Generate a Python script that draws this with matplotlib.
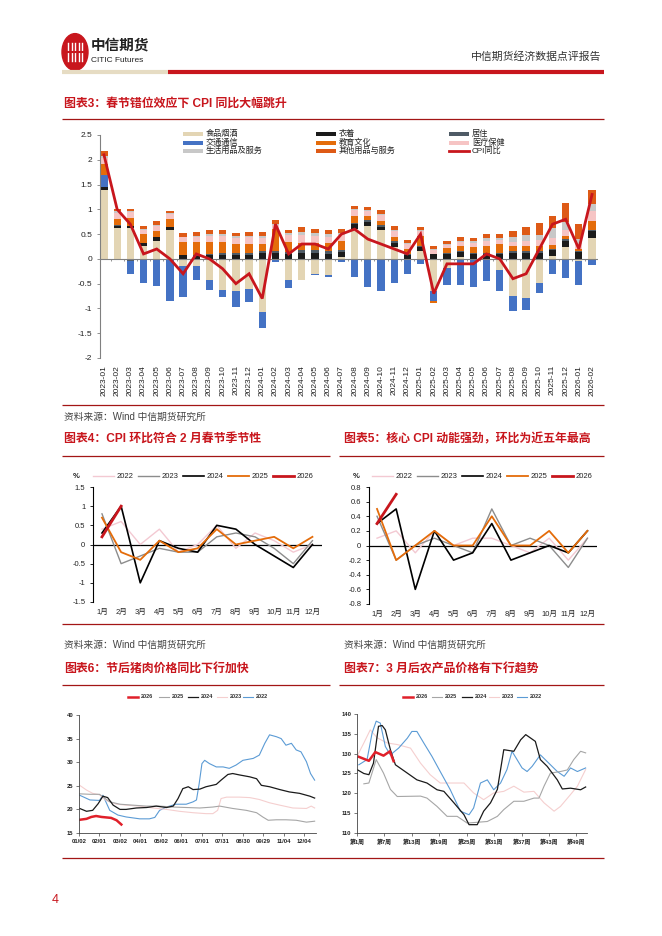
import numpy as np
import matplotlib
matplotlib.use('Agg')
import matplotlib.pyplot as plt
from matplotlib.lines import Line2D
from matplotlib.patches import Rectangle, Circle
from matplotlib.ticker import FuncFormatter

plt.rcParams['font.family'] = ['Liberation Sans', 'Noto Sans CJK SC', 'DejaVu Sans']
plt.rcParams['axes.unicode_minus'] = False

# ---------------- data: chart 3 (CPI yoy contributions) ----------------
months3 = [f'{y}-{m:02d}' for y in (2023, 2024, 2025) for m in range(1, 13)] + ['2026-01', '2026-02']
comp_names = ['食品烟酒', '衣着', '居住', '交通通信', '教育文化', '医疗保健', '生活用品及服务', '其他用品与服务']
food = [1.40, 0.62, 0.62, 0.25, 0.37, 0.58, -0.15, -0.15, -0.43, -0.63, -0.65, -0.60,
        -1.08, -0.02, -0.42, -0.42, -0.30, -0.32, 0.04, 0.60, 0.66, 0.58, 0.24, -0.02,
        0.15, -0.65, -0.19, 0.03, -0.03, -0.02, -0.23, -0.75, -0.78, -0.48, 0.05, 0.24,
        -0.05, 0.42]
clothing = [0.05, 0.05, 0.05, 0.07, 0.08, 0.07, 0.08, 0.06, 0.07, 0.07, 0.07, 0.07,
            0.11, 0.11, 0.10, 0.12, 0.12, 0.10, 0.10, 0.10, 0.09, 0.07, 0.09, 0.08,
            0.09, 0.09, 0.09, 0.10, 0.10, 0.10, 0.10, 0.12, 0.12, 0.12, 0.12, 0.13,
            0.13, 0.15]
housing = [0.00, 0.01, -0.04, -0.03, -0.03, 0.00, 0.00, 0.02, 0.03, 0.04, 0.04, 0.04,
           0.04, 0.04, 0.04, 0.05, 0.05, 0.05, 0.04, 0.03, 0.03, 0.03, 0.03, 0.02,
           0.02, 0.01, 0.02, 0.02, 0.02, 0.02, 0.02, 0.03, 0.03, 0.03, 0.03, 0.03,
           0.02, 0.02]
transport = [0.25, -0.02, -0.26, -0.45, -0.52, -0.85, -0.62, -0.27, -0.20, -0.13, -0.33, -0.28,
             -0.32, -0.04, -0.16, 0.00, -0.02, -0.05, -0.07, -0.36, -0.56, -0.64, -0.49, -0.28,
             -0.10, -0.20, -0.33, -0.52, -0.53, -0.42, -0.42, -0.30, -0.26, -0.20, -0.30, -0.38,
             -0.47, -0.13]
education = [0.22, 0.12, 0.15, 0.18, 0.12, 0.15, 0.26, 0.26, 0.25, 0.23, 0.20, 0.20,
             0.15, 0.46, 0.20, 0.16, 0.15, 0.17, 0.18, 0.13, 0.08, 0.08, 0.08, 0.10,
             0.20, -0.05, 0.10, 0.12, 0.12, 0.15, 0.18, 0.10, 0.10, 0.10, 0.08, 0.07,
             0.05, 0.18]
medical = [0.12, 0.13, 0.12, 0.08, 0.10, 0.10, 0.10, 0.10, 0.12, 0.13, 0.12, 0.13,
           0.12, 0.08, 0.15, 0.15, 0.15, 0.13, 0.12, 0.12, 0.11, 0.12, 0.12, 0.10,
           0.10, 0.08, 0.07, 0.08, 0.08, 0.10, 0.08, 0.10, 0.12, 0.13, 0.15, 0.12,
           0.10, 0.20]
household = [0.04, 0.03, 0.02, 0.02, 0.02, 0.02, 0.01, 0.03, 0.03, 0.03, 0.03, 0.03,
             0.05, 0.02, 0.04, 0.06, 0.05, 0.05, 0.05, 0.02, 0.01, 0.02, 0.02, 0.02,
             0.02, 0.02, 0.02, 0.02, 0.04, 0.05, 0.05, 0.10, 0.12, 0.10, 0.19, 0.15,
             0.10, 0.14]
other = [0.10, 0.05, 0.05, 0.07, 0.07, 0.05, 0.07, 0.07, 0.08, 0.08, 0.07, 0.07,
         0.07, 0.07, 0.06, 0.10, 0.08, 0.08, 0.07, 0.07, 0.07, 0.08, 0.09, 0.07,
         0.07, 0.07, 0.07, 0.07, 0.07, 0.09, 0.07, 0.12, 0.15, 0.25, 0.25, 0.38,
         0.30, 0.28]
cpi_yoy = [2.1, 1.0, 0.7, 0.1, 0.2, 0.0, -0.3, 0.1, 0.0, -0.2, -0.5, -0.3,
           -0.8, 0.7, 0.1, 0.3, 0.3, 0.2, 0.5, 0.6, 0.4, 0.3, 0.2, 0.1,
           0.5, -0.7, -0.1, -0.1, -0.1, 0.1, 0.0, -0.4, -0.3, 0.2, 0.7, 0.8,
           0.2, 1.3]

# ---------------- data: charts 4/5 (monthly mom) ----------------
months12 = ['1月', '2月', '3月', '4月', '5月', '6月', '7月', '8月', '9月', '10月', '11月', '12月']
years = ['2022', '2023', '2024', '2025', '2026']
cpi_mom_2022 = [0.4, 0.6, 0.0, 0.4, -0.2, 0.0, 0.5, -0.1, 0.3, 0.1, -0.2, 0.0]
cpi_mom_2023 = [0.8, -0.5, -0.3, -0.1, -0.2, -0.2, 0.2, 0.3, 0.2, -0.1, -0.5, 0.1]
cpi_mom_2024 = [0.3, 1.0, -1.0, 0.1, -0.1, -0.2, 0.5, 0.4, 0.0, -0.3, -0.6, 0.0]
cpi_mom_2025 = [0.7, -0.2, -0.4, 0.1, -0.2, -0.1, 0.4, 0.0, 0.1, 0.2, -0.1, 0.2]
cpi_mom_2026 = [0.2, 1.0]
core_mom_2022 = [0.1, 0.2, -0.1, 0.2, 0.0, 0.1, 0.1, 0.0, -0.1, 0.1, -0.2, 0.1]
core_mom_2023 = [0.4, -0.2, 0.0, 0.1, 0.0, -0.1, 0.5, 0.0, 0.1, 0.0, -0.3, 0.1]
core_mom_2024 = [0.3, 0.5, -0.6, 0.2, -0.2, -0.1, 0.3, -0.2, -0.1, 0.0, -0.1, 0.2]
core_mom_2025 = [0.5, -0.2, 0.0, 0.2, 0.0, 0.0, 0.4, 0.0, 0.0, 0.2, -0.1, 0.2]
core_mom_2026 = [0.3, 0.7]

# ---------------- data: chart 6 (pork price, day of season) ----------------
pork_ticks = ['01/02', '02/01', '03/02', '04/01', '05/02', '06/01', '07/01', '07/31', '08/30', '09/29', '11/04', '12/04']
pork_day_2022 = [1, 16, 30, 35, 45, 57, 69, 89, 103, 111, 118, 128, 142, 157, 167, 172, 176, 180, 184, 191, 201,
                 211, 220, 230, 240, 255, 264, 272, 279, 289, 296, 303, 311, 318, 325, 333, 339, 345]
pork_2022 = [23.0, 22.0, 21.9, 23.0, 19.8, 18.8, 18.4, 18.0, 18.0, 18.3, 19.8, 20.5, 21.1, 21.1, 21.6, 22.0, 25.5,
             29.7, 30.4, 29.7, 29.0, 29.0, 28.7, 29.4, 30.4, 30.8, 31.5, 34.0, 35.8, 35.4, 35.0, 33.6, 34.0, 32.6,
             32.2, 30.1, 27.6, 26.2]
pork_day_2023 = [1, 11, 20, 30, 40, 55, 69, 89, 108, 128, 147, 167, 186, 196, 203, 208, 216, 235, 250, 264, 279,
                 294, 313, 333, 340, 345]
pork_2023 = [25.1, 24.1, 23.4, 23.1, 21.9, 21.1, 20.9, 20.7, 20.3, 20.0, 19.6, 19.3, 19.1, 19.1, 19.8, 22.3, 22.6,
             22.6, 22.5, 22.1, 21.4, 20.9, 20.3, 20.2, 20.7, 20.3]
pork_day_2024 = [1, 11, 20, 28, 35, 42, 50, 60, 69, 84, 99, 113, 128, 138, 145, 152, 160, 167, 177, 186, 201, 208,
                 218, 225, 235, 250, 260, 267, 279, 294, 308, 323, 338, 345]
pork_2024 = [20.2, 19.6, 19.8, 21.2, 22.8, 22.5, 20.9, 20.0, 20.0, 20.3, 20.4, 20.7, 20.4, 20.7, 22.3, 24.4, 24.8,
             24.2, 24.3, 24.8, 25.3, 26.2, 27.4, 27.6, 27.3, 26.9, 26.5, 25.1, 24.8, 24.2, 23.7, 23.4, 22.8, 22.4]
pork_day_2025 = [1, 16, 30, 45, 60, 79, 99, 118, 138, 157, 177, 196, 206, 225, 245, 260, 269, 277, 289, 303, 318,
                 333, 345]
pork_2025 = [23.3, 23.2, 23.2, 21.6, 21.1, 20.9, 20.7, 20.7, 20.5, 20.4, 20.3, 20.5, 20.7, 20.2, 19.8, 19.3, 18.4,
             17.7, 17.8, 17.8, 17.7, 17.3, 17.5]
pork_day_2026 = [1, 11, 18, 25, 33, 40, 47, 55, 62]
pork_2026 = [17.8, 18.0, 18.4, 18.6, 18.4, 18.3, 18.2, 17.7, 16.8]

# ---------------- data: chart 7 (agri price index, week) ----------------
week_ticks = [1, 7, 13, 19, 25, 31, 37, 43, 49]
agri_wk_2026 = [1.4, 3.6, 5.0, 6.8, 8.2, 9.0]
agri_2026 = [129.2, 128.2, 130.4, 129.5, 130.6, 128.1]
agri_wk_2025 = [2.5, 3.6, 5.2, 6.8, 8.3, 9.8, 14.9, 16.3, 18.5, 20.7, 22.9, 25.1, 27.3, 29.5, 31.7, 33.1, 35.3,
                37.5, 39.7, 40.8, 41.9, 43.3, 45.5, 47.0, 48.4, 49.9, 51.0]
agri_2025 = [122.4, 122.6, 128.5, 125.1, 121.0, 119.2, 119.3, 118.8, 116.7, 114.2, 114.2, 112.5, 112.7, 112.9,
             114.2, 115.9, 118.0, 118.0, 118.8, 118.8, 121.8, 125.1, 125.5, 125.9, 128.5, 130.6, 130.2]
agri_wk_2024 = [1, 2.5, 3.6, 4.6, 5.7, 6.5, 7.2, 8.3, 9.4, 12, 14.1, 16.3, 18.5, 20, 22.2, 24.4, 25.5, 27.3, 28.7,
                30.2, 31.7, 33.1, 35.3, 36.8, 37.9, 40, 41.1, 42.6, 44.8, 45.9, 47.7, 49.9, 51]
agri_2024 = [126.0, 125.0, 124.7, 127.6, 136.9, 137.1, 136.0, 131.0, 127.2, 125.1, 123.4, 122.6, 120.9, 120.5,
             117.6, 114.6, 112.1, 112.1, 115.5, 117.6, 121.0, 131.0, 130.6, 133.5, 134.8, 133.1, 128.5, 126.8,
             123.4, 121.1, 121.3, 120.9, 121.6]
agri_wk_2023 = [1, 2.5, 3.9, 5.4, 7.6, 9.8, 12.7, 14.9, 17, 19.2, 22.2, 24.4, 26.5, 28.7, 30.9, 33.1, 35.3, 37.5,
                39.7, 41.9, 44.1, 45.5, 47.7, 49.2, 51]
agri_2023 = [129.3, 132.7, 136.0, 134.0, 132.7, 132.3, 131.4, 127.6, 124.7, 122.6, 122.6, 122.6, 120.1, 118.4,
             120.1, 120.5, 121.8, 120.3, 120.5, 117.6, 115.5, 116.7, 119.7, 121.8, 126.0]
agri_wk_2022 = [1.4, 3.2, 4.3, 5.2, 6.1, 7.2, 8.3, 10.1, 12, 13, 14.1, 15.6, 17.4, 19.2, 21.4, 23.6, 25.5, 26.5,
                28, 29.5, 30.9, 32.4, 33.8, 34.9, 36, 37.1, 38.2, 39.3, 41.1, 42.6, 44.8, 46.3, 47.7, 49.2, 51]
agri_2022 = [127.2, 128.5, 135.2, 138.2, 137.7, 131.8, 129.7, 131.4, 133.9, 135.6, 135.6, 132.7, 129.3, 125.5,
             120.9, 115.5, 114.6, 116.3, 122.6, 123.4, 120.9, 122.6, 126.0, 130.6, 128.5, 126.4, 125.5, 126.8,
             129.7, 128.0, 125.5, 124.3, 126.4, 125.5, 126.4]

# ---------------- figure helpers ----------------
W, H = 662, 936
fig = plt.figure(figsize=(W / 100, H / 100), dpi=100)
fig.patch.set_facecolor('white')


def fx(x):
    return x / W


def fy(y):
    return 1 - y / H


def add_ax(x0, yt, x1, yb):
    return fig.add_axes([fx(x0), fy(yb), (x1 - x0) / W, (yb - yt) / H])


def ftext(x, y, s, **kw):
    return fig.text(fx(x), fy(y), s, **kw)


def fline(x0, x1, y, color, lw):
    fig.add_artist(Line2D([fx(x0), fx(x1)], [fy(y), fy(y)], color=color, lw=lw,
                          solid_capstyle='butt'))


DRED = '#A31515'
TITLE_KW = dict(color='#C8161D', fontsize=8.6, fontweight='bold', va='center', ha='left')
SRC_KW = dict(color='#444444', fontsize=7, va='center', ha='left')

# ---------------- header ----------------
fig.add_artist(Circle((fx(75), fy(52)), 13 / W, transform=fig.transFigure, color='#C8161D'))
for dx in (-7, -3.5, 0, 3.5, 7):
    fig.add_artist(Line2D([fx(75 + dx), fx(75 + dx)], [fy(43), fy(61)], color='white', lw=1.0))
fig.add_artist(Line2D([fx(66), fx(84)], [fy(52), fy(52)], color='#C8161D', lw=1.5))
ftext(91, 46, '中信期货', fontsize=10.5, fontweight='bold', color='#222222', va='center')
ftext(91, 61, 'CITIC Futures', fontsize=6, color='#222222', va='center')
ftext(601, 57, '中信期货经济数据点评报告', fontsize=7.8, color='#333333', ha='right', va='center')
fline(62, 168, 72, '#E6DCC3', 3)
fline(168, 604, 72, '#C8161D', 3)

# ---------------- chart 3 ----------------
ftext(64, 104, '图表3：春节错位效应下 CPI 同比大幅跳升', **TITLE_KW)
fline(62, 604, 119, DRED, 0.9)

colors3 = ['#E3D5B4', '#1B1B1B', '#4F5B66', '#4472C4', '#E46C0A', '#F6C4C4', '#C8C8C8', '#DE5A16']
ax3 = add_ax(100, 135, 598, 358)
n3 = len(months3)
x3 = np.arange(n3)
pos_base = np.zeros(n3)
neg_base = np.zeros(n3)
for vals, col in zip([food, clothing, housing, transport, education, medical, household, other], colors3):
    v = np.array(vals)
    p = np.where(v > 0, v, 0.0)
    q = np.where(v < 0, v, 0.0)
    ax3.bar(x3, p, bottom=pos_base, width=0.55, color=col, lw=0, zorder=2)
    ax3.bar(x3, q, bottom=neg_base, width=0.55, color=col, lw=0, zorder=2)
    pos_base += p
    neg_base += q
ax3.axhline(0, color='#808080', lw=0.8, zorder=3)
ax3.vlines(np.arange(n3 + 1) - 0.5, -0.05, 0, color='#808080', lw=0.6, zorder=3)
ax3.plot(x3, cpi_yoy, color='#C8161D', lw=2.0, zorder=5, solid_joinstyle='miter')
ax3.set_xlim(-0.3, 37.45)
ax3.set_ylim(-2, 2.5)
ax3.set_yticks(np.arange(-2, 2.51, 0.5))
ax3.yaxis.set_major_formatter(FuncFormatter(lambda v, p: f'{v:g}'))
ax3.set_xticks(x3)
ax3.set_xticklabels(months3, rotation=90, fontsize=6, color='#222222')
ax3.tick_params(axis='x', length=0, pad=5)
ax3.tick_params(axis='y', length=2.5, width=0.6, color='#808080', labelsize=6, labelcolor='#222222', pad=3)
for s in ('top', 'right', 'bottom'):
    ax3.spines[s].set_visible(False)
ax3.spines['left'].set_color('#808080')
ax3.spines['left'].set_linewidth(0.8)
ax3.patch.set_alpha(0)

# chart 3 legend (row-major, 3 columns)
leg_cols = [183, 316, 449]
leg_rows = [134, 142.5, 151]
leg_items = list(zip(comp_names, colors3)) + [('CPI同比', None)]
for i, (name, col) in enumerate(leg_items):
    cx = leg_cols[i % 3]
    cy = leg_rows[i // 3]
    if col is None:
        fig.add_artist(Line2D([fx(cx), fx(cx + 20)], [fy(cy), fy(cy)], color='#C8161D', lw=2.0))
    else:
        fig.add_artist(Rectangle((fx(cx), fy(cy + 2)), 20 / W, 4 / H, transform=fig.transFigure,
                                 color=col, lw=0))
    ftext(cx + 23, cy, name, fontsize=5.9, color='#222222', va='center')

fline(62, 604, 405, DRED, 0.9)
ftext(64, 417, '资料来源：Wind 中信期货研究所', **SRC_KW)

# ---------------- charts 4 & 5 ----------------
ftext(64, 439, '图表4：CPI 环比符合 2 月春节季节性', **TITLE_KW)
ftext(344, 439, '图表5：核心 CPI 动能强劲，环比为近五年最高', **TITLE_KW)
fline(62, 330, 456, DRED, 0.9)
fline(339, 604, 456, DRED, 0.9)

mom_colors = ['#F3C9D2', '#8C8C8C', '#000000', '#E46C0A', '#C8161D']
mom_lw = [1.0, 1.0, 1.2, 1.3, 2.0]


def mom_chart(box, series, ylim, step, fmt, leg_x, pct_x):
    ax = add_ax(*box)
    for ser, col, lw in zip(series, mom_colors, mom_lw):
        ax.plot(np.arange(len(ser)), ser, color=col, lw=lw, zorder=5 if col == '#C8161D' else 3)
    ax.axhline(0, color='black', lw=0.9, zorder=2)
    ax.set_ylim(*ylim)
    ax.set_yticks(np.arange(ylim[0], ylim[1] + 1e-9, step))
    ax.yaxis.set_major_formatter(FuncFormatter(fmt))
    ax.set_xticks(np.arange(12))
    ax.set_xticklabels(months12, fontsize=5.5, color='#222222')
    ax.tick_params(axis='x', length=0, pad=5)
    ax.tick_params(axis='y', length=2.5, width=0.6, labelsize=5.5, labelcolor='#222222', pad=3)
    for s in ('top', 'right', 'bottom'):
        ax.spines[s].set_visible(False)
    ax.spines['left'].set_linewidth(0.8)
    ax.patch.set_alpha(0)
    for i, (yr, col, lw) in enumerate(zip(years, mom_colors, mom_lw)):
        lx = leg_x + 45 * i
        fig.add_artist(Line2D([fx(lx), fx(lx + 21)], [fy(476), fy(476)], color=col, lw=lw))
        ftext(lx + 24, 476, yr, fontsize=5.5, color='#222222', va='center')
    ftext(pct_x, 477, '%', fontsize=5.5, fontweight='bold', color='#222222', va='center', ha='center')
    return ax


ax4 = mom_chart((93, 487, 322, 602), [cpi_mom_2022, cpi_mom_2023, cpi_mom_2024, cpi_mom_2025, cpi_mom_2026],
                (-1.5, 1.5), 0.5, lambda v, p: f'{v:g}', 93, 76)
ax4.set_xlim(-0.47, 11.5)
ax5 = mom_chart((369, 487, 597, 604), [core_mom_2022, core_mom_2023, core_mom_2024, core_mom_2025, core_mom_2026],
                (-0.8, 0.8), 0.2, lambda v, p: '0' if abs(v) < 1e-9 else f'{v:.1f}', 372, 356)
ax5.set_xlim(-0.42, 11.5)

fline(62, 604, 624, DRED, 0.9)
ftext(64, 645, '资料来源：Wind 中信期货研究所', **SRC_KW)
ftext(344, 645, '资料来源：Wind 中信期货研究所', **SRC_KW)

# ---------------- charts 6 & 7 ----------------
ftext(64, 669, '图表6：节后猪肉价格同比下行加快', **TITLE_KW)
ftext(344, 669, '图表7：3 月后农产品价格有下行趋势', **TITLE_KW)
fline(62, 330, 685, DRED, 0.9)
fline(339, 604, 685, DRED, 0.9)

line_cols = {'2026': '#E0202A', '2025': '#A6A6A6', '2024': '#1A1A1A', '2023': '#F5CFCF', '2022': '#5B9BD5'}
line_lw = {'2026': 1.8, '2025': 0.8, '2024': 0.9, '2023': 0.8, '2022': 0.8}
leg_order = ['2026', '2025', '2024', '2023', '2022']


def small_style(ax):
    for s in ('top', 'right'):
        ax.spines[s].set_visible(False)
    for s in ('left', 'bottom'):
        ax.spines[s].set_color('#444444')
        ax.spines[s].set_linewidth(0.6)
    ax.tick_params(length=2, width=0.5, color='#444444', labelsize=4.2, labelcolor='#222222', pad=2)
    for lab in ax.get_xticklabels() + ax.get_yticklabels():
        lab.set_fontweight('bold')
    ax.patch.set_alpha(0)


ax6 = add_ax(79, 715, 316, 833)
pork = {'2022': (pork_day_2022, pork_2022), '2023': (pork_day_2023, pork_2023),
        '2024': (pork_day_2024, pork_2024), '2025': (pork_day_2025, pork_2025),
        '2026': (pork_day_2026, pork_2026)}
for yr in ['2022', '2023', '2025', '2024', '2026']:
    d, v = pork[yr]
    ax6.plot(d, v, color=line_cols[yr], lw=line_lw[yr])
ax6.set_xlim(0, 347)
ax6.set_ylim(15, 40)
ax6.set_yticks(np.arange(15, 41, 5))
ax6.set_xticks(np.arange(len(pork_ticks)) * 30)
ax6.set_xticklabels(pork_ticks)
small_style(ax6)
for i, yr in enumerate(leg_order):
    lx = [128, 159, 188, 217, 243][i]
    fig.add_artist(Line2D([fx(lx), fx(lx + 10)], [fy(697), fy(697)], color=line_cols[yr], lw=line_lw[yr]))
    ftext(lx + 13, 697, yr, fontsize=4, color='#333333', va='center', fontweight='bold')

ax7 = add_ax(357, 714, 587, 833)
agri = {'2022': (agri_wk_2022, agri_2022), '2023': (agri_wk_2023, agri_2023),
        '2024': (agri_wk_2024, agri_2024), '2025': (agri_wk_2025, agri_2025),
        '2026': (agri_wk_2026, agri_2026)}
for yr in ['2023', '2022', '2025', '2024', '2026']:
    w, v = agri[yr]
    ax7.plot(w, v, color=line_cols[yr], lw=line_lw[yr])
ax7.set_xlim(1, 51.3)
ax7.set_ylim(110, 140)
ax7.set_yticks(np.arange(110, 141, 5))
ax7.set_xticks(week_ticks)
ax7.set_xticklabels([f'第{w}周' for w in week_ticks])
small_style(ax7)
for i, yr in enumerate(leg_order):
    lx = [403, 432, 462, 489, 517][i]
    fig.add_artist(Line2D([fx(lx), fx(lx + 10)], [fy(697), fy(697)], color=line_cols[yr], lw=line_lw[yr]))
    ftext(lx + 13, 697, yr, fontsize=4, color='#333333', va='center', fontweight='bold')

fline(62, 604, 858, DRED, 0.9)

# page number
ftext(52, 900, '4', fontsize=9, color='#C8161D', va='center', ha='left')

fig.savefig('out.png', dpi=100, facecolor='white')
